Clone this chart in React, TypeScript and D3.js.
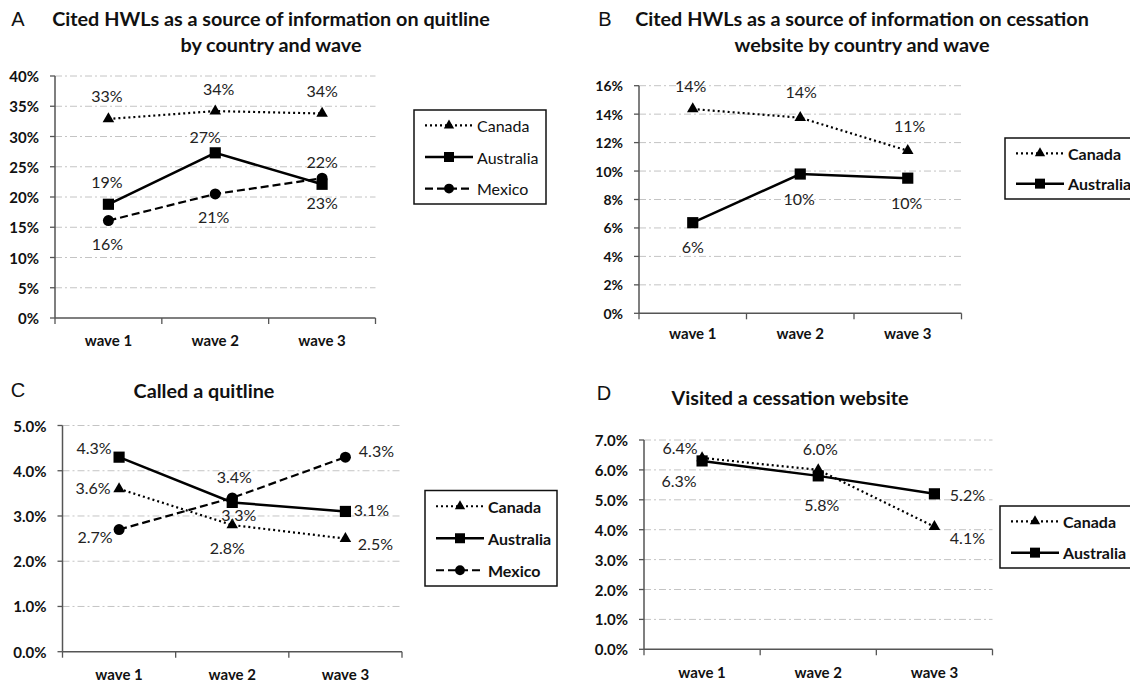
import React, { useEffect } from "react";
import * as d3 from "d3";

// ---------- DATA ----------
const waves = ["wave 1", "wave 2", "wave 3"];

// A: cited HWLs as a source of information on quitline (%)
const quitInfoCanada = [32.9, 34.2, 33.8];
const quitInfoAustralia = [18.8, 27.3, 22.1];
const quitInfoMexico = [16.1, 20.5, 23.1];

// B: cited HWLs as a source of information on cessation website (%)
const webInfoCanada = [14.36, 13.75, 11.43];
const webInfoAustralia = [6.37, 9.79, 9.5];

// C: called a quitline (%)
const calledCanada = [3.6, 2.8, 2.5];
const calledAustralia = [4.3, 3.3, 3.1];
const calledMexico = [2.7, 3.4, 4.3];

// D: visited a cessation website (%)
const visitedCanada = [6.4, 6.0, 4.1];
const visitedAustralia = [6.3, 5.8, 5.2];

const ticksA = [0, 5, 10, 15, 20, 25, 30, 35, 40];
const ticksB = [0, 2, 4, 6, 8, 10, 12, 14, 16];
const ticksC = [0, 1, 2, 3, 4, 5];
const ticksD = [0, 1, 2, 3, 4, 5, 6, 7];

// ---------- STYLES ----------
type Kind = "canada" | "australia" | "mexico";
const seriesStyle: Record<Kind, { name: string; dash: string; width: number; symbol: any; size: number }> = {
  canada: { name: "Canada", dash: "2,3", width: 2.2, symbol: d3.symbolTriangle, size: 58 },
  australia: { name: "Australia", dash: "", width: 2.5, symbol: d3.symbolSquare, size: 125 },
  mexico: { name: "Mexico", dash: "8,4", width: 2.2, symbol: d3.symbolCircle, size: 95 },
};

const FONT = "Lato, 'Open Sans', sans-serif";

interface Series {
  kind: Kind;
  values: number[];
  offsets: [number, number][];
}

interface PanelCfg {
  letter: string;
  letterX: number;
  letterY: number;
  title: string[];
  titleX: number;
  titleY: number;
  x0: number;
  x1: number;
  yTop: number;
  yBot: number;
  ticks: number[];
  decimals: number;
  labelDecimals: number;
  tickFont: number;
  xLabelY: number;
  series: Series[];
  legend: { x: number; y: number; w: number; h: number; bold: boolean; rowGap: number };
}

const panels: PanelCfg[] = [
  {
    letter: "A", letterX: 18, letterY: 19,
    title: ["Cited HWLs as a source of information on quitline", "by country and wave"],
    titleX: 271, titleY: 18,
    x0: 55, x1: 375.5, yTop: 76, yBot: 318,
    ticks: ticksA, decimals: 0, labelDecimals: 0, tickFont: 15, xLabelY: 340,
    series: [
      { kind: "canada", values: quitInfoCanada, offsets: [[-1.5, -23], [3.5, -23], [0, -23]] },
      { kind: "australia", values: quitInfoAustralia, offsets: [[-1.5, -23], [-10, -16], [0, -23]] },
      { kind: "mexico", values: quitInfoMexico, offsets: [[-1, 23], [-1.5, 23], [0, 24]] },
    ],
    legend: { x: 414, y: 110, w: 132, h: 94, bold: false, rowGap: 31.6 },
  },
  {
    letter: "B", letterX: 605, letterY: 19,
    title: ["Cited HWLs as a source of information on cessation", "website by country and wave"],
    titleX: 862, titleY: 18,
    x0: 639, x1: 961.5, yTop: 85.7, yBot: 313.3,
    ticks: ticksB, decimals: 0, labelDecimals: 0, tickFont: 14, xLabelY: 333,
    series: [
      { kind: "canada", values: webInfoCanada, offsets: [[-2, -24], [1, -26], [2, -25]] },
      { kind: "australia", values: webInfoAustralia, offsets: [[0, 24], [-1, 24], [-1, 24]] },
    ],
    legend: { x: 1005, y: 138, w: 132, h: 61, bold: true, rowGap: 30.3 },
  },
  {
    letter: "C", letterX: 18, letterY: 390,
    title: ["Called a quitline"],
    titleX: 204, titleY: 390,
    x0: 62.5, x1: 402, yTop: 425.5, yBot: 651.7,
    ticks: ticksC, decimals: 1, labelDecimals: 1, tickFont: 15, xLabelY: 674,
    series: [
      { kind: "canada", values: calledCanada, offsets: [[-26, -1], [-5, 22], [30, 5]] },
      { kind: "australia", values: calledAustralia, offsets: [[-25, -10], [6.5, 12.5], [26, -2]] },
      { kind: "mexico", values: calledMexico, offsets: [[-24, 7], [2, -21], [31, -7]] },
    ],
    legend: { x: 425, y: 490.5, w: 132, h: 95.5, bold: true, rowGap: 32 },
  },
  {
    letter: "D", letterX: 604, letterY: 393,
    title: ["Visited a cessation website"],
    titleX: 790, titleY: 397,
    x0: 644, x1: 992.5, yTop: 440, yBot: 649.3,
    ticks: ticksD, decimals: 1, labelDecimals: 1, tickFont: 15, xLabelY: 672,
    series: [
      { kind: "canada", values: visitedCanada, offsets: [[-22, -10], [2, -21], [33, 11]] },
      { kind: "australia", values: visitedAustralia, offsets: [[-23, 20], [3.5, 29], [33, 1]] },
    ],
    legend: { x: 1000, y: 506, w: 135, h: 62, bold: true, rowGap: 31.3 },
  },
];

function Panel({ cfg }: { cfg: PanelCfg }) {
  const yMax = cfg.ticks[cfg.ticks.length - 1];
  const x = d3.scaleBand<string>().domain(waves).range([cfg.x0, cfg.x1]).padding(0);
  const y = d3.scaleLinear().domain([0, yMax]).range([cfg.yBot, cfg.yTop]);
  const cx = (w: string) => (x(w) as number) + x.bandwidth() / 2;
  const tickFmt = (v: number) => d3.format(`.${cfg.decimals}f`)(v) + "%";
  const labelFmt = (v: number) => d3.format(`.${cfg.labelDecimals}f`)(v) + "%";
  const bounds = [...waves.map((w) => x(w) as number), cfg.x1];
  const line = d3
    .line<number>()
    .x((_, i) => cx(waves[i]))
    .y((v) => y(v));

  const axisColor = "#555";
  const lg = cfg.legend;

  return (
    <g>
      <text x={cfg.letterX} y={cfg.letterY} textAnchor="middle" dominantBaseline="central"
        fontFamily="'Liberation Sans', Arial, sans-serif" fontSize={20} fill="#111">
        {cfg.letter}
      </text>
      {cfg.title.map((t, i) => (
        <text key={i} x={cfg.titleX} y={cfg.titleY + i * 26} textAnchor="middle" dominantBaseline="central"
          fontFamily={FONT} fontWeight="bold" fontSize={19.8} fill="#111">
          {t}
        </text>
      ))}
      {/* grid */}
      {cfg.ticks.filter((t) => t > 0).map((t) => (
        <line key={t} x1={cfg.x0} x2={cfg.x1} y1={y(t)} y2={y(t)} stroke="#c4c4c4" strokeWidth={1}
          strokeDasharray="7,3,2,3" />
      ))}
      {/* y axis */}
      <line x1={cfg.x0} x2={cfg.x0} y1={cfg.yTop} y2={cfg.yBot} stroke={axisColor} strokeWidth={1.5} />
      {cfg.ticks.map((t) => (
        <g key={t}>
          <line x1={cfg.x0 - 5} x2={cfg.x0} y1={y(t)} y2={y(t)} stroke={axisColor} strokeWidth={1.3} />
          <text x={cfg.x0 - 16} y={y(t)} textAnchor="end" dominantBaseline="central" fontFamily={FONT}
            fontWeight="bold" fontSize={cfg.tickFont} fill="#111">
            {tickFmt(t)}
          </text>
        </g>
      ))}
      {/* x axis */}
      <line x1={cfg.x0} x2={cfg.x1} y1={cfg.yBot} y2={cfg.yBot} stroke={axisColor} strokeWidth={1.5} />
      {bounds.map((b, i) => (
        <line key={i} x1={b} x2={b} y1={cfg.yBot} y2={cfg.yBot + 6} stroke={axisColor} strokeWidth={1.3} />
      ))}
      {waves.map((w) => (
        <text key={w} x={cx(w)} y={cfg.xLabelY} textAnchor="middle" dominantBaseline="central"
          fontFamily={FONT} fontWeight="bold" fontSize={15} fill="#111">
          {w}
        </text>
      ))}
      {/* series */}
      {cfg.series.map((s) => {
        const st = seriesStyle[s.kind];
        const sym = d3.symbol().type(st.symbol).size(st.size)();
        return (
          <g key={s.kind}>
            <path d={line(s.values) ?? ""} fill="none" stroke="#000" strokeWidth={st.width}
              strokeDasharray={st.dash || undefined} />
            {s.values.map((v, i) => (
              <path key={i} d={sym ?? ""} transform={`translate(${cx(waves[i])},${y(v)})`} fill="#000" />
            ))}
          </g>
        );
      })}
      {cfg.series.map((s) =>
        s.values.map((v, i) => (
          <text key={s.kind + i} x={cx(waves[i]) + s.offsets[i][0]} y={y(v) + s.offsets[i][1]}
            textAnchor="middle" dominantBaseline="central" fontFamily={FONT} fontSize={16} fill="#222">
            {labelFmt(v)}
          </text>
        ))
      )}
      {/* legend */}
      <rect x={lg.x} y={lg.y} width={lg.w} height={lg.h} fill="#fff" stroke="#111" strokeWidth={1.5} />
      {cfg.series.map((s, i) => {
        const st = seriesStyle[s.kind];
        const sym = d3.symbol().type(st.symbol).size(st.size * 0.8)();
        const ly = lg.y + lg.h / 2 + (i - (cfg.series.length - 1) / 2) * lg.rowGap;
        const lx0 = lg.x + 11;
        const lx1 = lx0 + 48;
        return (
          <g key={s.kind}>
            <line x1={lx0} x2={lx1} y1={ly} y2={ly} stroke="#000" strokeWidth={st.width}
              strokeDasharray={st.dash || undefined} />
            <path d={sym ?? ""} transform={`translate(${(lx0 + lx1) / 2},${ly})`} fill="#000" />
            <text x={lx1 + 4} y={ly} dominantBaseline="central" fontFamily={FONT}
              fontWeight={lg.bold ? "bold" : "normal"} fontSize={16} fill="#111">
              {st.name}
            </text>
          </g>
        );
      })}
    </g>
  );
}

export default function App() {
  useEffect(() => {
    document.body.style.margin = "0";
  }, []);
  return (
    <svg width={1130} height={682} style={{ position: "absolute", left: 0, top: 0, background: "#fff" }}>
      <rect width={1130} height={682} fill="#fff" />
      {panels.map((p) => (
        <Panel key={p.letter} cfg={p} />
      ))}
    </svg>
  );
}
